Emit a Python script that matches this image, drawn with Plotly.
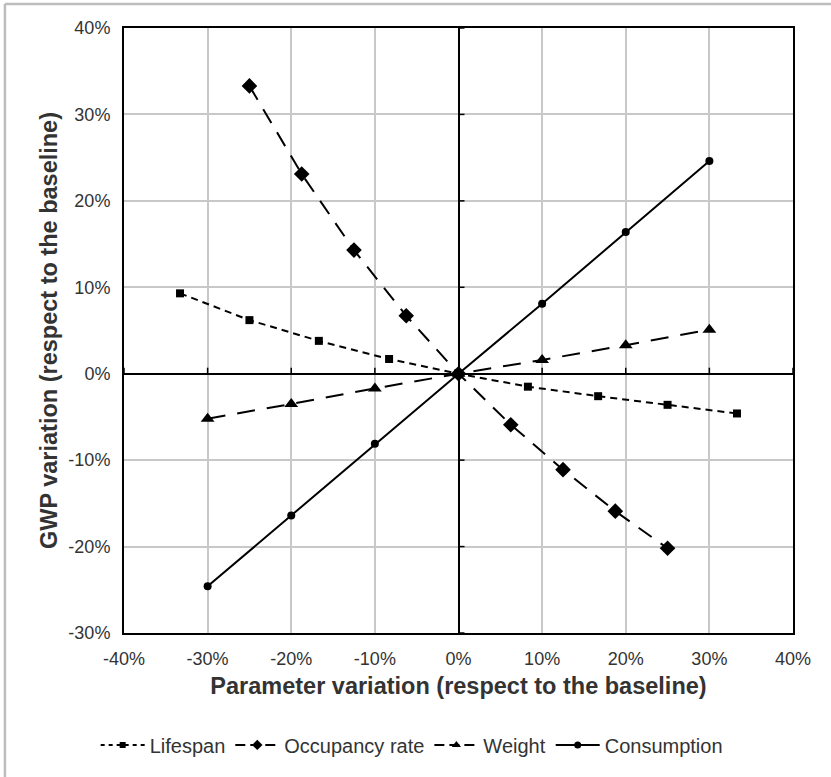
import plotly.graph_objects as go

# ---- data (percent) ----
lifespan_x = [-33.3, -25.0, -16.7, -8.3, 0.0, 8.3, 16.7, 25.0, 33.3]
lifespan_y = [9.3, 6.2, 3.8, 1.7, 0.0, -1.5, -2.6, -3.6, -4.6]

occupancy_x = [-25.0, -18.75, -12.5, -6.25, 0.0, 6.25, 12.5, 18.75, 25.0]
occupancy_y = [33.3, 23.1, 14.3, 6.7, 0.0, -5.9, -11.1, -15.9, -20.2]

weight_x = [-30.0, -20.0, -10.0, 0.0, 10.0, 20.0, 30.0]
weight_y = [-5.2, -3.5, -1.7, 0.0, 1.6, 3.3, 5.1]

consumption_x = [-30.0, -20.0, -10.0, 0.0, 10.0, 20.0, 30.0]
consumption_y = [-24.6, -16.4, -8.1, 0.0, 8.1, 16.4, 24.6]

x_ticks = [-40, -30, -20, -10, 0, 10, 20, 30, 40]
y_ticks = [-30, -20, -10, 0, 10, 20, 30, 40]
x_ticktext = [f"{v}%" for v in x_ticks]
y_ticktext = [f"{v}%" for v in y_ticks]

FONT = "Liberation Sans, Arial, sans-serif"
TXT = "#333333"

series = [
    ("Lifespan", lifespan_x, lifespan_y, "7px,5px", "square", 8, 6),
    ("Occupancy rate", occupancy_x, occupancy_y, "16px,11px", "diamond", 12, 8),
    ("Weight", weight_x, weight_y, "18px,12px", "triangle-up", 12, 8),
    ("Consumption", consumption_x, consumption_y, "solid", "circle", 8, 7),
]

fig = go.Figure()
for name, xs, ys, dash, sym, msize, lsize in series:
    fig.add_trace(go.Scatter(x=xs, y=ys, name=name, mode="lines+markers", showlegend=False,
                             line=dict(color="black", width=2, dash=dash),
                             marker=dict(symbol=sym, size=msize, color="black")))
for name, xs, ys, dash, sym, msize, lsize in series:
    fig.add_trace(go.Scatter(x=[None], y=[None], name=name, mode="lines+markers", showlegend=True,
                             line=dict(color="black", width=2,
                                       dash=("4px,4px" if dash == "7px,5px" else
                                             ("10px,5px" if dash != "solid" else "solid"))),
                             marker=dict(symbol=sym, size=lsize, color="black")))

shapes = []
# small tick marks on the zero axes
for t in x_ticks:
    shapes.append(dict(type="line", xref="x", yref="y", x0=t, x1=t, ysizemode="pixel",
                       yanchor=0, y0=0, y1=6, line=dict(color="black", width=1.5)))
for t in y_ticks:
    shapes.append(dict(type="line", xref="x", yref="y", y0=t, y1=t, xsizemode="pixel",
                       xanchor=0, x0=0, x1=6, line=dict(color="black", width=1.5)))
# outer frame (top and left)
shapes.append(dict(type="line", xref="paper", yref="paper", x0=-0.178, x1=1.2, y0=1.0397, y1=1.0397,
                   line=dict(color="#bdbdbd", width=2.5)))
shapes.append(dict(type="line", xref="paper", yref="paper", x0=-0.178, x1=-0.178, y0=1.0397, y1=-0.3,
                   line=dict(color="#bdbdbd", width=2.5)))

fig.update_layout(
    width=831, height=777,
    margin=dict(l=124, r=38, t=28, b=144, autoexpand=False),
    paper_bgcolor="white", plot_bgcolor="white",
    font=dict(family=FONT, color=TXT, size=18),
    shapes=shapes,
    showlegend=True,
    legend=dict(orientation="h", x=0.43, xanchor="center", y=-0.185, yanchor="middle",
                font=dict(size=20, color=TXT), itemwidth=44, traceorder="normal"),
    xaxis=dict(range=[-40, 40], tickmode="array", tickvals=x_ticks, ticktext=x_ticktext,
               showgrid=True, gridcolor="#c8c8c8", gridwidth=1.5, zeroline=True,
               zerolinecolor="black", zerolinewidth=1.5, showline=True, linecolor="black",
               linewidth=2, mirror=True, ticks="", ticklabelstandoff=8,
               tickfont=dict(size=18, color=TXT),
               title=dict(text="<b>Parameter variation (respect to the baseline)</b>",
                          font=dict(size=23.5, color=TXT), standoff=10)),
    yaxis=dict(range=[-30, 40], tickmode="array", tickvals=y_ticks, ticktext=y_ticktext,
               showgrid=True, gridcolor="#c8c8c8", gridwidth=1.5, zeroline=True,
               zerolinecolor="black", zerolinewidth=1.5, showline=True, linecolor="black",
               linewidth=2, mirror=True, ticks="", ticklabelstandoff=8,
               tickfont=dict(size=18, color=TXT),
               title=dict(text="<b>GWP variation (respect to the baseline)</b>",
                          font=dict(size=23.5, color=TXT), standoff=4)),
)

fig.write_html("out.html")
